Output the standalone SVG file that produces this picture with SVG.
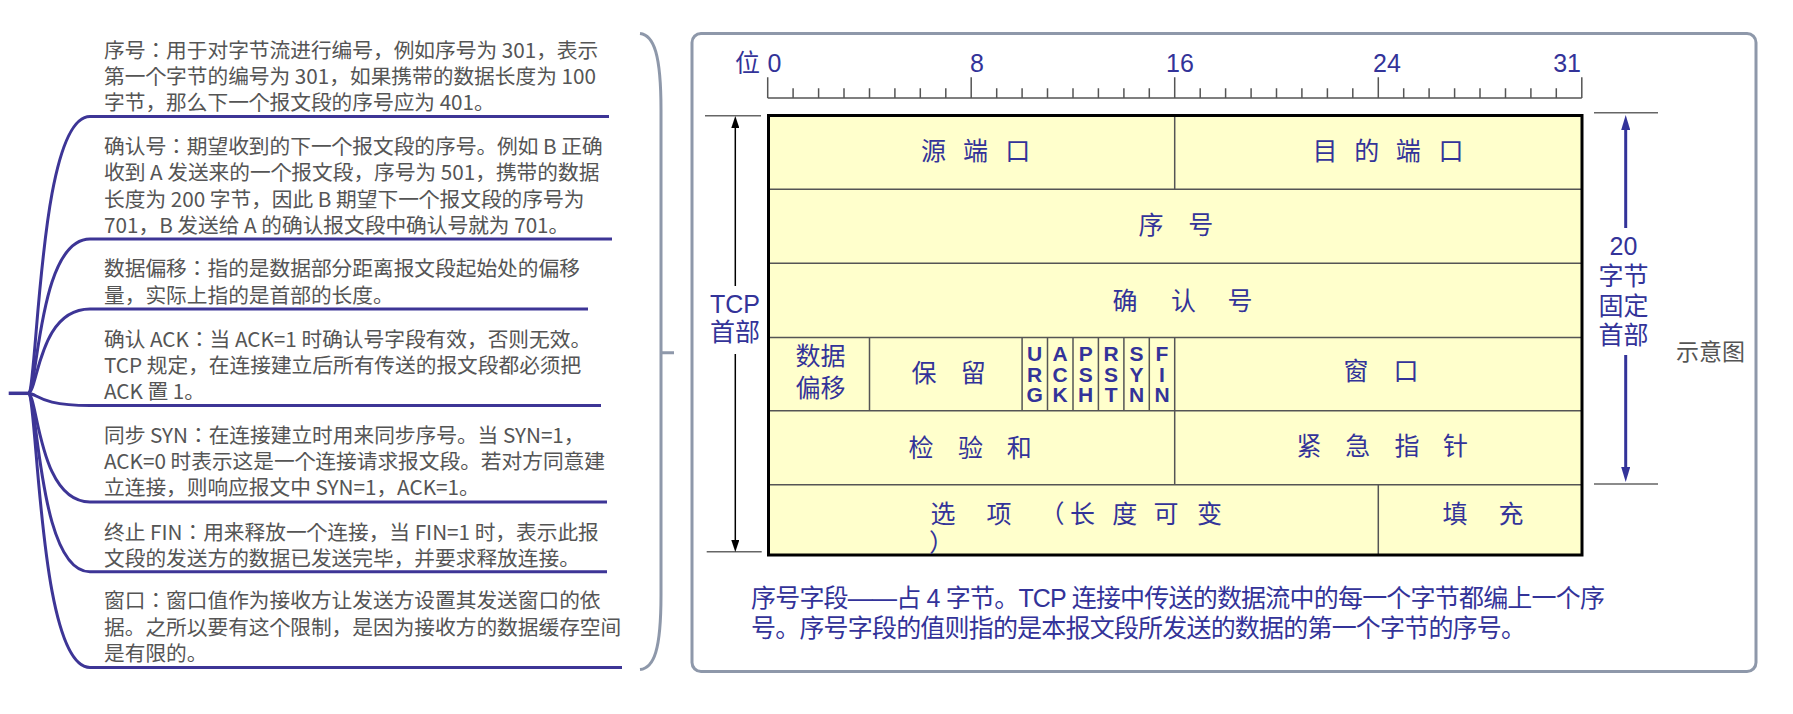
<svg xmlns="http://www.w3.org/2000/svg" width="1793" height="714" viewBox="0 0 1793 714">
<style>
.note{font-family:"Noto Sans CJK JP","Noto Sans CJK SC",sans-serif;font-size:20.7px;fill:#555555}
.blue{font-family:"Liberation Sans","Noto Sans CJK SC",sans-serif;fill:#333399}
.cell{font-family:"Noto Sans CJK SC",sans-serif;font-size:25px;fill:#333399;text-anchor:middle}
.flag{font-family:"Liberation Sans",sans-serif;font-weight:bold;font-size:21px;fill:#333399;writing-mode:vertical-rl;text-orientation:upright;letter-spacing:-2.5px}
.branch{fill:none;stroke:#3d3596;stroke-width:3}
.grid{fill:none;stroke:#555555;stroke-width:1.5}
.tick{fill:none;stroke:#666666;stroke-width:1.5}
</style>
<defs>
<marker id="ahK" viewBox="0 0 12 8" refX="0" refY="4" markerWidth="12" markerHeight="8" markerUnits="userSpaceOnUse" orient="auto"><path d="M0 0L12 4L0 8Z" fill="#000"/></marker>
<marker id="ahB" viewBox="0 0 15 9" refX="0" refY="4.5" markerWidth="15" markerHeight="9" markerUnits="userSpaceOnUse" orient="auto"><path d="M0 0L15 4.5L0 9Z" fill="#333399"/></marker>
</defs>
<rect width="1793" height="714" fill="#ffffff"/>

<g id="connectors">
<path d="M8.7 393.3H28" fill="none" stroke="#3d3596" stroke-width="3.5"/>
<path class="branch" d="M28 393.3C38 393.3 38 116.5 90 116.5H609"/>
<path class="branch" d="M28 393.3C38 393.3 38 239 90 239H612"/>
<path class="branch" d="M28 393.3C38 393.3 38 309 90 309H588"/>
<path class="branch" d="M28 393.3C38 393.3 38 405.5 90 405.5H601"/>
<path class="branch" d="M28 393.3C38 393.3 38 502 90 502H607"/>
<path class="branch" d="M28 393.3C38 393.3 38 571.8 90 571.8H607"/>
<path class="branch" d="M28 393.3C38 393.3 38 667.5 90 667.5H622"/>
<path d="M640 33.5C654 35 661 55 661 110V595C661 650 654 668 640 669.5M661 352.7H674" fill="none" stroke="#8e98aa" stroke-width="3"/>
</g>

<g id="notes">
<g id="note-seq">
<text class="note" x="104" y="58">序号：用于对字节流进行编号，例如序号为 301，表示</text>
<text class="note" x="104" y="84">第一个字节的编号为 301，如果携带的数据长度为 100</text>
<text class="note" x="104" y="110">字节，那么下一个报文段的序号应为 401。</text>
</g>
<g id="note-ack">
<text class="note" x="104" y="154">确认号：期望收到的下一个报文段的序号。例如 B 正确</text>
<text class="note" x="104" y="180">收到 A 发送来的一个报文段，序号为 501，携带的数据</text>
<text class="note" x="104" y="206.5">长度为 200 字节，因此 B 期望下一个报文段的序号为</text>
<text class="note" x="104" y="232.5">701，B 发送给 A 的确认报文段中确认号就为 701。</text>
</g>
<g id="note-offset">
<text class="note" x="104" y="276">数据偏移：指的是数据部分距离报文段起始处的偏移</text>
<text class="note" x="104" y="302.5">量，实际上指的是首部的长度。</text>
</g>
<g id="note-ackflag">
<text class="note" x="104" y="346.5">确认 ACK：当 ACK=1 时确认号字段有效，否则无效。</text>
<text class="note" x="104" y="373">TCP 规定，在连接建立后所有传送的报文段都必须把</text>
<text class="note" x="104" y="399">ACK 置 1。</text>
</g>
<g id="note-syn">
<text class="note" x="104" y="443">同步 SYN：在连接建立时用来同步序号。当 SYN=1，</text>
<text class="note" x="104" y="468.5">ACK=0 时表示这是一个连接请求报文段。若对方同意建</text>
<text class="note" x="104" y="495">立连接，则响应报文中 SYN=1，ACK=1。</text>
</g>
<g id="note-fin">
<text class="note" x="104" y="540">终止 FIN：用来释放一个连接，当 FIN=1 时，表示此报</text>
<text class="note" x="104" y="566">文段的发送方的数据已发送完毕，并要求释放连接。</text>
</g>
<g id="note-win">
<text class="note" x="104" y="608">窗口：窗口值作为接收方让发送方设置其发送窗口的依</text>
<text class="note" x="104" y="635">据。之所以要有这个限制，是因为接收方的数据缓存空间</text>
<text class="note" x="104" y="660.5">是有限的。</text>
</g>
</g>

<g id="panel">
<rect x="692" y="33.5" width="1064" height="638" rx="9" fill="none" stroke="#8e98aa" stroke-width="3"/>
<text x="1676" y="360" style="font-family:'Noto Sans CJK SC',sans-serif;font-size:23px;fill:#555555">示意图</text>
</g>

<g id="ruler">
<text class="blue" x="735" y="72" style="font-size:25px;font-family:'Noto Sans CJK SC',sans-serif">位</text>
<text class="blue" x="767.5" y="72" font-size="25">0</text>
<text class="blue" x="970" y="72" font-size="25">8</text>
<text class="blue" x="1166" y="72" font-size="25">16</text>
<text class="blue" x="1373" y="72" font-size="25">24</text>
<text class="blue" x="1581" y="72" font-size="25" text-anchor="end">31</text>
<path class="grid" d="M767.7 98H1581.8M767.7 77.3V98M971.2 77.3V98M1174.7 77.3V98M1378.3 77.3V98M1581.8 77.3V98M793.1 88.3V98M818.6 88.3V98M844 88.3V98M869.5 88.3V98M894.9 88.3V98M920.3 88.3V98M945.8 88.3V98M996.7 88.3V98M1022.1 88.3V98M1047.5 88.3V98M1073 88.3V98M1098.4 88.3V98M1123.9 88.3V98M1149.3 88.3V98M1200.2 88.3V98M1225.6 88.3V98M1251.1 88.3V98M1276.5 88.3V98M1301.9 88.3V98M1327.4 88.3V98M1352.8 88.3V98M1403.7 88.3V98M1429.1 88.3V98M1454.6 88.3V98M1480 88.3V98M1505.5 88.3V98M1530.9 88.3V98M1556.3 88.3V98"/>
</g>

<g id="tcp-header">
<rect x="768.5" y="115.5" width="813.5" height="439.5" fill="#ffffcc"/>
<path class="grid" d="M768.5 189.3H1582M768.5 263.3H1582M768.5 337.5H1582M768.5 410.7H1582M768.5 484.7H1582M1174.7 115.5V189.3M869.5 337.5V410.7M1022.1 337.5V410.7M1047.5 337.5V410.7M1073 337.5V410.7M1098.4 337.5V410.7M1123.9 337.5V410.7M1149.3 337.5V410.7M1174.7 337.5V484.7M1378.3 484.7V555"/>
<rect x="768.5" y="115.5" width="813.5" height="439.5" fill="none" stroke="#000000" stroke-width="3"/>
</g>

<g id="field-srcport"><text class="cell" x="933.5 975.5 1017.7" y="160">源端口</text></g>
<g id="field-dstport"><text class="cell" x="1325 1366.7 1408.3 1451" y="160">目的端口</text></g>
<g id="field-seq"><text class="cell" x="1151 1200.7" y="233.5">序号</text></g>
<g id="field-ack"><text class="cell" x="1125 1183.5 1240" y="310">确认号</text></g>
<g id="field-offset"><text class="cell" x="820.5" y="364.5">数据</text><text class="cell" x="820.5" y="396.5">偏移</text></g>
<g id="field-reserved"><text class="cell" x="924 973.3" y="381.5">保留</text></g>
<g id="field-flags">
<text class="flag" x="1034.7" y="342">URG</text>
<text class="flag" x="1060.2" y="342">ACK</text>
<text class="flag" x="1085.7" y="342">PSH</text>
<text class="flag" x="1111.1" y="342">RST</text>
<text class="flag" x="1136.5" y="342">SYN</text>
<text class="flag" x="1162" y="342">FIN</text>
</g>
<g id="field-window"><text class="cell" x="1356 1406" y="380">窗口</text></g>
<g id="field-checksum"><text class="cell" x="921 970.5 1019.3" y="456.5">检验和</text></g>
<g id="field-urgent"><text class="cell" x="1309 1357.7 1407 1455.6" y="455">紧急指针</text></g>
<g id="field-options"><text class="cell" x="943 999 1052 1082.5 1124.7 1166 1209.6" y="523">选项（长度可变</text><text class="cell" x="941.5" y="552">）</text></g>
<g id="field-padding"><text class="cell" x="1455 1511" y="523">填充</text></g>

<g id="label-tcp">
<text class="blue" x="735" y="313" font-size="25" text-anchor="middle">TCP</text>
<text class="blue" x="735" y="341" font-size="25" text-anchor="middle">首部</text>
<path class="tick" d="M705 115.7H761M706.7 551.7H761.7"/>
<path d="M735.3 286V128" fill="none" stroke="#000" stroke-width="1.5" marker-end="url(#ahK)"/>
<path d="M735.3 354V540" fill="none" stroke="#000" stroke-width="1.5" marker-end="url(#ahK)"/>
</g>

<g id="label-20bytes">
<text class="blue" x="1623.5" y="255" font-size="25" text-anchor="middle">20</text>
<text class="blue" x="1623.5" y="284.5" font-size="25" text-anchor="middle">字节</text>
<text class="blue" x="1623.5" y="314.5" font-size="25" text-anchor="middle">固定</text>
<text class="blue" x="1623.5" y="344" font-size="25" text-anchor="middle">首部</text>
<path class="tick" d="M1594 112.7H1658M1594 484H1658"/>
<path d="M1625.7 228V130" fill="none" stroke="#333399" stroke-width="3" marker-end="url(#ahB)"/>
<path d="M1625.7 355V467" fill="none" stroke="#333399" stroke-width="3" marker-end="url(#ahB)"/>
</g>

<g id="caption">
<text class="blue" x="751" y="607" font-size="25" textLength="854" lengthAdjust="spacing">序号字段——占 4 字节。TCP 连接中传送的数据流中的每一个字节都编上一个序</text>
<text class="blue" x="751" y="636.5" font-size="25" textLength="775" lengthAdjust="spacing">号。序号字段的值则指的是本报文段所发送的数据的第一个字节的序号。</text>
</g>
</svg>
